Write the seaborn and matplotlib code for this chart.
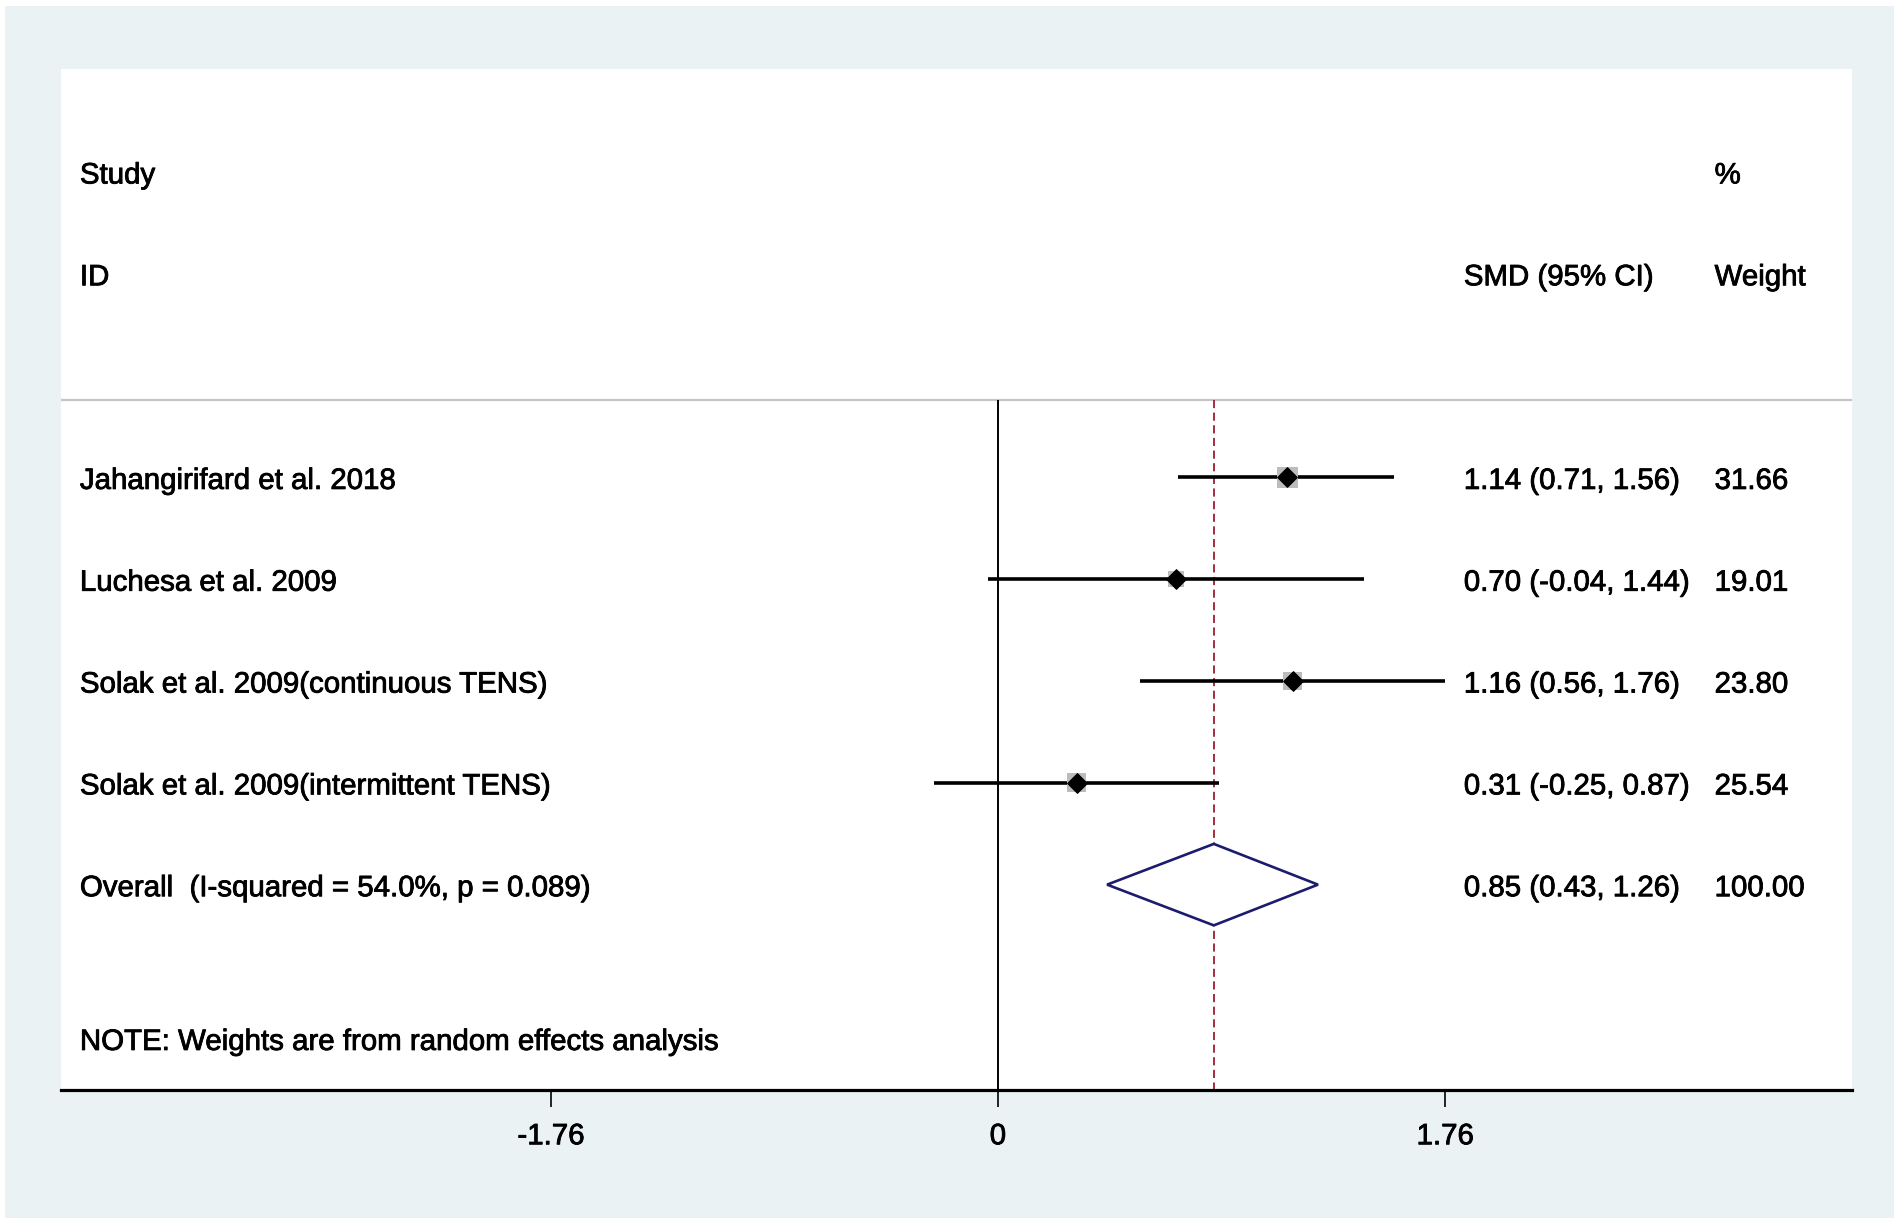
import numpy as np
import pandas as pd
import matplotlib
matplotlib.use("Agg")
import matplotlib.pyplot as plt
import matplotlib.patheffects as pe
from matplotlib.patches import Polygon, Rectangle
import seaborn as sns

# data
studies = ["Jahangirifard et al. 2018", "Luchesa et al. 2009",
           "Solak et al. 2009(continuous TENS)", "Solak et al. 2009(intermittent TENS)"]
smd = [1.14, 0.70, 1.16, 0.31]
ci_low = [0.71, -0.04, 0.56, -0.25]
ci_high = [1.56, 1.44, 1.76, 0.87]
weights = [31.66, 19.01, 23.80, 25.54]
overall_smd = 0.85
overall_low = 0.43
overall_high = 1.26
overall_weight = 100.00
i_squared = 54.0
p_het = 0.089
xticks = [-1.76, 0, 1.76]
xticklabels = ["-1.76", "0", "1.76"]

rows = list(range(1, len(studies) + 1))
overall_row = len(studies) + 1

df = pd.DataFrame({"study": studies, "smd": smd, "lo": ci_low, "hi": ci_high,
                   "w": weights, "row": rows})

sns.set_style("white")
plt.rcParams['font.family'] = ['Liberation Sans', 'DejaVu Sans']

W, H = 1568, 1012  # reference display coords
fig = plt.figure(figsize=(19, 12.26), dpi=100, facecolor="white")
fig.patches.append(Rectangle((5 / 1900, 8 / 1226), 1 - 11 / 1900, 1 - 14 / 1226,
                             transform=fig.transFigure, facecolor="#EAF2F3",
                             edgecolor="none", zorder=-10))
ax = fig.add_axes([50 / W, 1 - 900 / H, (1528 - 50) / W, (900 - 57) / H])
ax.set_facecolor("white")

xlim = (-3.689, 3.360)
ylim = (7.02, -3.01)
ax.set_xlim(*xlim)
ax.set_ylim(*ylim)

sep = 0.24
fs = 21.2
dy = 0.035
x_study, x_smd, x_w = -3.613, 1.834, 2.821
heavy = [pe.withStroke(linewidth=0.6, foreground="black")]


def label(x, y, s):
    ax.text(x, y + dy, s, fontsize=fs, va="center", color="black", path_effects=heavy)


# header
label(x_study, -2, "Study")
label(x_study, -1, "ID")
label(x_smd, -1, "SMD (95% CI)")
label(x_w, -2, "%")
label(x_w, -1, "Weight")
ax.axhline(sep, color="#c4c4c4", lw=1.6, zorder=1)

# reference lines
ax.vlines(0, sep, ylim[0], color="black", lw=1.4, zorder=2)
ax.vlines(overall_smd, sep, ylim[0], color="#9b1c2c", lw=1.3,
          linestyles=(0, (4.5, 2.5)), zorder=2)

# confidence intervals
ax.hlines(df["row"], df["lo"], df["hi"], color="black", lw=2.6, zorder=3)

# weight boxes and point estimates
df["box"] = (np.sqrt(df["w"]) * 3.75 * 0.72) ** 2
sns.scatterplot(data=df, x="smd", y="row", size="box", sizes=(df["box"].min(), df["box"].max()),
                marker="s", color="#bcbcbc", edgecolor="none", legend=False, ax=ax, zorder=4)
sns.scatterplot(data=df, x="smd", y="row", marker="D", s=100, color="black",
                edgecolor="black", legend=False, ax=ax, zorder=5)

for _, r in df.iterrows():
    label(x_study, r["row"], r["study"])
    label(x_smd, r["row"], f"{r['smd']:.2f} ({r['lo']:.2f}, {r['hi']:.2f})")
    label(x_w, r["row"], f"{r['w']:.2f}")

# overall diamond
h = 0.40
ax.add_patch(Polygon([(overall_low, overall_row), (overall_smd, overall_row - h),
                      (overall_high, overall_row), (overall_smd, overall_row + h)],
                     closed=True, facecolor="white", edgecolor="#1c1c6e", lw=1.9, zorder=6))
label(x_study, overall_row, f"Overall  (I-squared = {i_squared:.1f}%, p = {p_het:.3f})")
label(x_smd, overall_row, f"{overall_smd:.2f} ({overall_low:.2f}, {overall_high:.2f})")
label(x_w, overall_row, f"{overall_weight:.2f}")

label(x_study, 6.51, "NOTE: Weights are from random effects analysis")

# axes styling
for s in ["top", "left", "right"]:
    ax.spines[s].set_visible(False)
ax.spines["bottom"].set_linewidth(2.3)
ax.spines["bottom"].set_color("black")
ax.set_yticks([])
ax.set_xticks(xticks)
ax.set_xticklabels(xticklabels)
ax.tick_params(axis="x", direction="out", length=12, width=1.2, labelsize=fs, pad=11,
               bottom=True, colors="black")
for t in ax.get_xticklabels():
    t.set_path_effects(heavy)
ax.set_xlabel("")
ax.set_ylabel("")

fig.savefig("out.png", dpi=100, facecolor=fig.get_facecolor())
